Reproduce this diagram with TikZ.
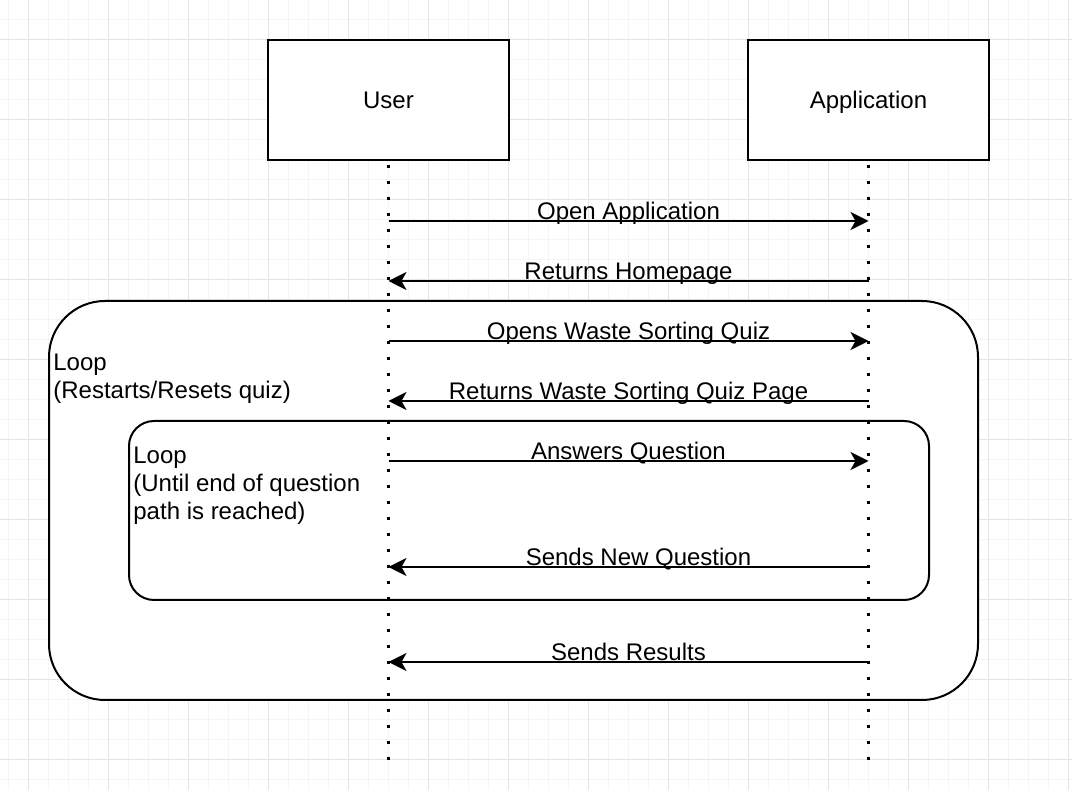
\documentclass[tikz,border=0pt]{standalone}
\usepackage{fontspec}
\setmainfont{Liberation Sans}
\usetikzlibrary{arrows.meta}

\definecolor{GridMajor}{RGB}{228,228,228}
\definecolor{GridMinor}{RGB}{245,245,245}

\begin{document}
\begin{tikzpicture}[x=0.5pt, y=-0.5pt,
    every node/.style={font=\fontsize{12}{13.8}\selectfont},
    actor/.style={draw, line width=1pt, fill=white, minimum width=120.5pt, minimum height=60pt, inner sep=0pt, text height=10.5pt, text depth=2pt},
    frame/.style={draw, line width=1pt, fill=white},
    lifeline/.style={line width=1.5pt, dash pattern=on 1.5pt off 6.5pt, dash phase=6pt},
    msg/.style={line width=1pt, -{Stealth[length=9pt, width=9pt, inset=2.5pt]}},
    lbl/.style={inner sep=0pt, text height=8.5pt, text depth=2.5pt, yshift=3.5pt},
    looptext/.style={align=left, anchor=north west, inner sep=0pt}]
                \useasboundingbox (0,0) rectangle (1072,790);

                % Background grid
                \foreach \gx in {8,28,...,1068} \draw[GridMinor, line width=0.5pt] (\gx,0) -- (\gx,790);
                \foreach \gy in {0,20,...,780} \draw[GridMinor, line width=0.5pt] (0,\gy) -- (1072,\gy);
                \foreach \gx in {28,108,...,1068} \draw[GridMajor, line width=0.5pt] (\gx,0) -- (\gx,790);
                \foreach \gy in {40,120,...,760} \draw[GridMajor, line width=0.5pt] (0,\gy) -- (1072,\gy);

                % Loop frames
                \draw[frame, rounded corners=28pt] (49,301) rectangle (978,700);
                \draw[frame, rounded corners=12.5pt] (129,421) rectangle (929,600);
                \node[looptext] (outerloop) at (53,353.5) {Loop\\(Restarts/Resets quiz)};
                \node[looptext] (innerloop) at (133,447) {Loop\\(Until end of question\\path is reached)};

                % Participants
                \node[actor] (user) at (388.5,100.5) {User};
                \node[actor] (app) at (868.5,100.5) {Application};

                % Lifelines
                \coordinate (userend) at (388.5,760);
                \coordinate (append) at (868.5,760);
                \draw[lifeline] (user.south) -- (userend);
                \draw[lifeline] (app.south) -- (append);

                % Messages
                \draw[msg] (user.south |- 0,221) -- (app.south |- 0,221) node[lbl, midway] {Open Application};
                \draw[msg] (app.south |- 0,281) -- (user.south |- 0,281) node[lbl, midway] {Returns Homepage};
                \draw[msg] (user.south |- 0,341) -- (app.south |- 0,341) node[lbl, midway] {Opens Waste Sorting Quiz};
                \draw[msg] (app.south |- 0,401) -- (user.south |- 0,401) node[lbl, midway] {Returns Waste Sorting Quiz Page};
                \draw[msg] (user.south |- 0,461) -- (app.south |- 0,461) node[lbl, midway] {Answers Question};
                \draw[msg] (app.south |- 0,567) -- (user.south |- 0,567) node[lbl, midway, xshift=5pt] {Sends New Question};
                \draw[msg] (app.south |- 0,662) -- (user.south |- 0,662) node[lbl, midway] {Sends Results};
            \end{tikzpicture}
\end{document}
